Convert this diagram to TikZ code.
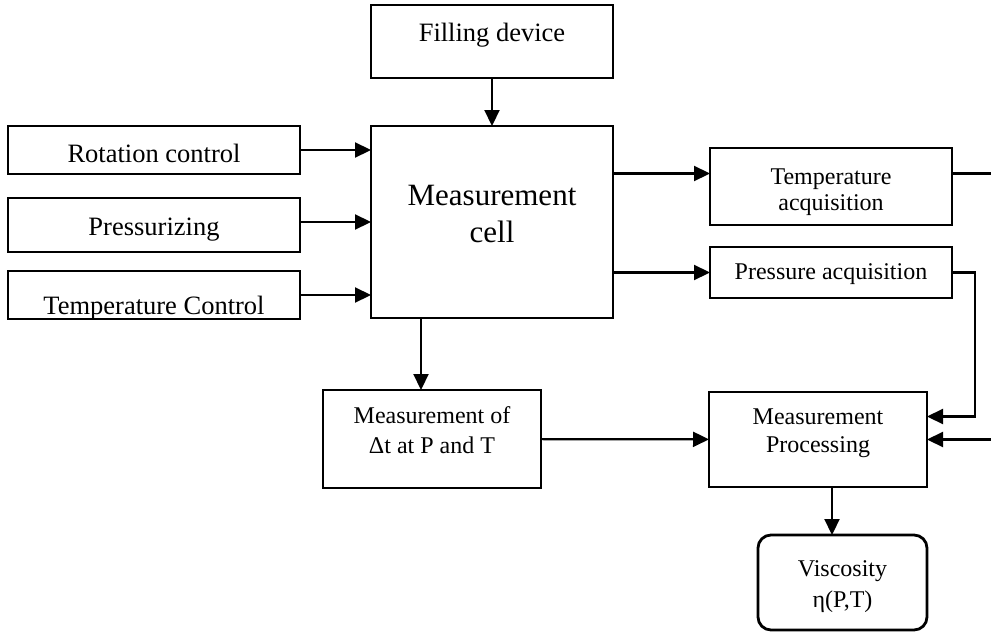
\documentclass[tikz,border=0pt]{standalone}
\usepackage{fontspec}
\setmainfont{Liberation Serif}
\usetikzlibrary{arrows.meta,calc}
\tikzset{
  >={Triangle[length=16pt,width=15pt]},
  block/.style={draw,line width=2.8pt,inner sep=0pt,outer sep=0pt,align=center,anchor=north west},
  big/.style={font=\fontsize{26.5}{32}\selectfont},
  small/.style={font=\fontsize{24}{28}\selectfont},
  arrow/.style={->,line width=2.2pt},
}
\begin{document}
\begin{tikzpicture}[x=1pt,y=-1pt]
\useasboundingbox (0,0) rectangle (991,632);
% top and centre
\node[block,big,minimum width=242pt,text height=36pt,text depth=37pt] (fill) at (371,5) {Filling device};
\node[block,minimum width=242pt,text height=116pt,text depth=76pt,font=\fontsize{31}{37}\selectfont] (cell) at (371,126) {Measurement\\cell};
% inputs on the left
\node[block,big,minimum width=292pt,text height=36pt,text depth=12pt] (rot) at (8,126) {Rotation control};
\node[block,big,minimum width=292pt,text height=37pt,text depth=17pt] (press) at (8,198) {Pressurizing};
\node[block,big,minimum width=292pt,text height=43pt,text depth=5pt] (tctl) at (8,271) {Temperature Control};
% acquisition on the right
\node[block,small,minimum width=242pt,text height=62pt,text depth=15pt] (tacq) at (710,148) {Temperature\\[-2pt]acquisition};
\node[block,small,minimum width=242pt,text height=32pt,text depth=19pt] (pacq) at (710,247) {Pressure acquisition};
% lower row
\node[block,small,minimum width=218pt,text height=63pt,text depth=35pt] (delta) at (323,390) {Measurement of\\[2pt]Δt at P and T};
\node[block,small,minimum width=218pt,text height=60pt,text depth=35pt] (proc) at (709,392) {Measurement\\Processing};
\node[block,small,rounded corners=13pt,minimum width=169pt,text height=72pt,text depth=23pt] (visc) at (758,535) {Viscosity\\[3pt]η(P,T)};

\draw[arrow] (fill) -- (cell);
\draw[arrow] (rot) -- (rot -| cell.west);
\draw[arrow] ([yshift=3pt]press.east) -- ([yshift=3pt]press.east -| cell.west);
\draw[arrow] (tctl) -- (tctl -| cell.west);
\draw[arrow] ([yshift=13pt]tacq.west -| cell.east) -- ([yshift=13pt]tacq.west);
\draw[arrow] (pacq.west -| cell.east) -- (pacq.west);
\draw[arrow] ([xshift=-11pt]delta.north |- cell.south) -- ([xshift=-11pt]delta.north);
\draw[arrow] (delta) -- (proc);
\draw[arrow] ([xshift=14pt]proc.south) -- ([xshift=14pt]proc.south |- visc.north);
\draw[arrow] (pacq.east) -- ++(23,0) |- ([yshift=23pt]proc.east);
\draw[arrow] ([yshift=13pt]tacq.east) -- ++(60,0) |- (proc.east);
\end{tikzpicture}
\end{document}
